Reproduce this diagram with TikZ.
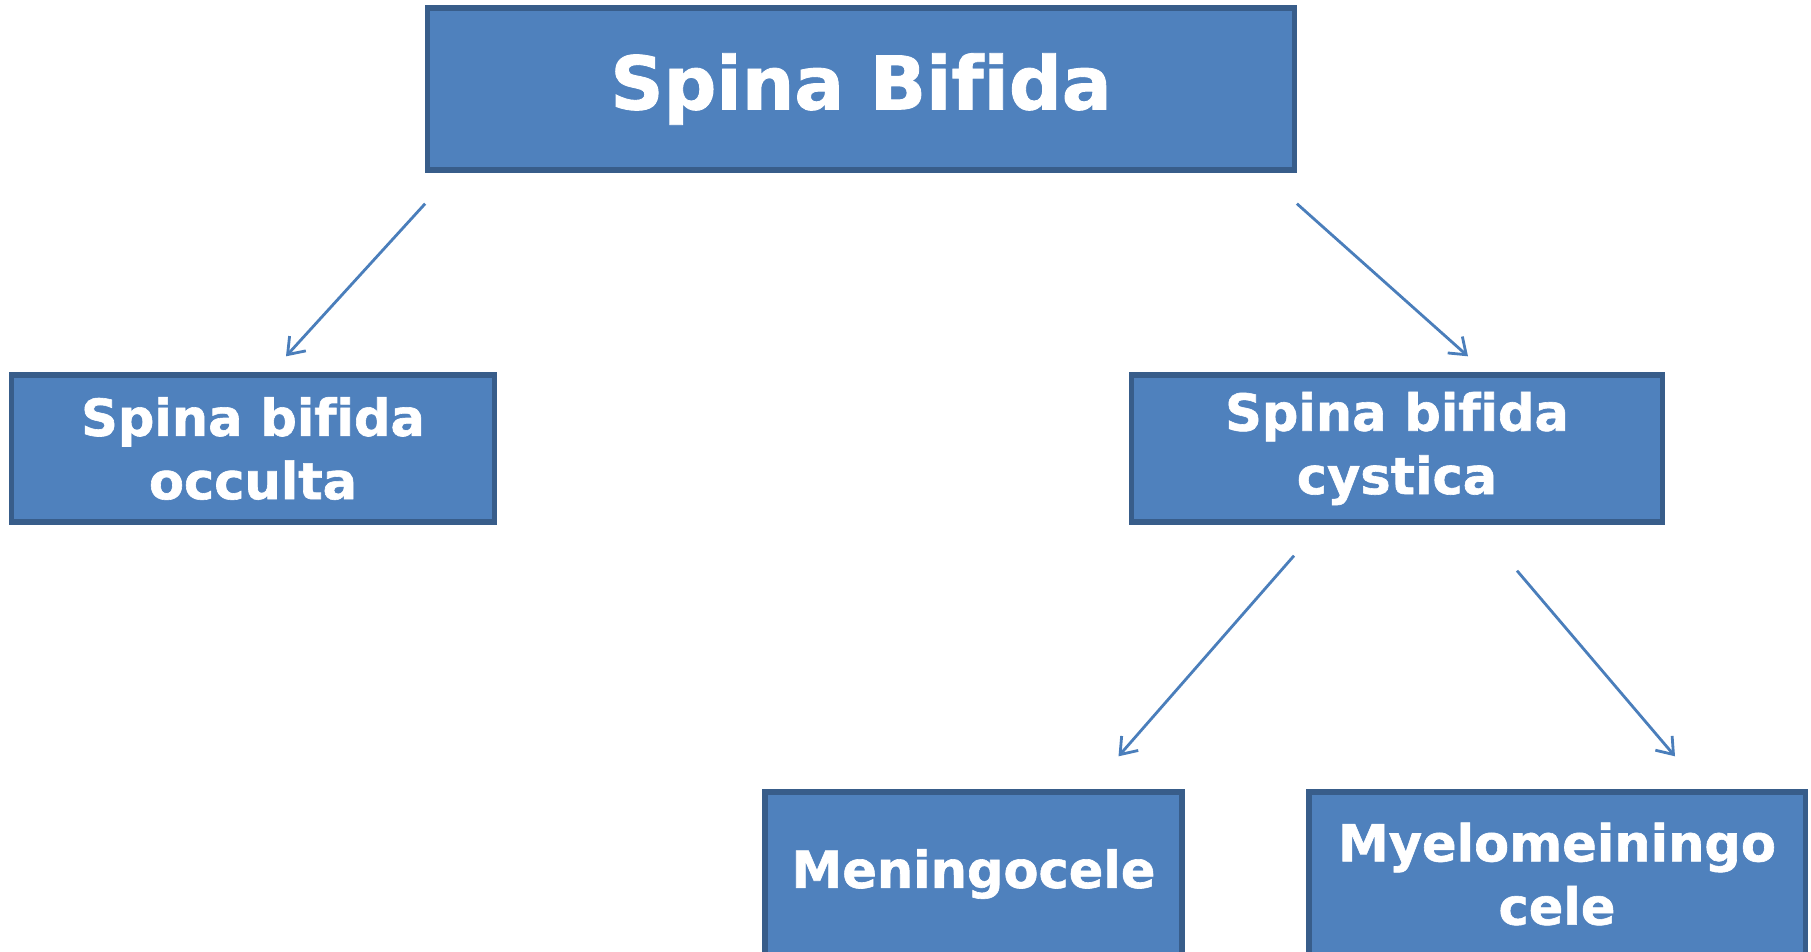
\documentclass[tikz,border=0pt]{standalone}
\usepackage{fontspec}
\setmainfont{DejaVu Sans}[Ligatures=NoCommon, BoldFeatures={FakeBold=1.2}]
\usetikzlibrary{arrows.meta,calc}

\definecolor{boxfill}{HTML}{4F81BD}
\definecolor{boxline}{HTML}{385D8A}
\definecolor{arrline}{HTML}{4A7EBB}

\tikzset{
  sbox/.style={draw=boxline, line width=1.5pt, fill=boxfill, text=white,
    font=\bfseries\fontsize{14.5}{18}\selectfont, align=center,
    inner sep=0pt},
  arr/.style={draw=arrline, line width=0.8pt,
    -{Straight Barb[length=0.15cm,width=0.22cm]}}
}

\begin{document}
\begin{tikzpicture}[x=0.01cm, y=-0.01cm]

    % page frame (pixels of the reference)
    \useasboundingbox (0,0) rectangle (1811,952);

    % top box
    \node[sbox, minimum width=8.66cm, minimum height=1.62cm,
      font=\bfseries\fontsize{21}{26}\selectfont] (spina) at (861,89) {Spina Bifida};

    % second level
    \node[sbox, minimum width=4.82cm, minimum height=1.47cm] (occulta) at (253,448.5) {Spina bifida\\occulta};
    \node[sbox, minimum width=5.30cm, minimum height=1.47cm] (cystica) at (1397,448.5) {Spina bifida\\cystica};

    % third level (cut off by the page bottom)
    \node[sbox, minimum width=4.17cm, minimum height=1.64cm] (meningo) at (973.5,874) {Meningocele};
    \node[sbox, minimum width=4.96cm, minimum height=1.64cm] (myelo) at (1557,874) {Myelomeiningo\\cele};

    % arrow ends
    \coordinate (s1) at ($(spina.south west)+(0,31)$);
    \coordinate (s2) at ($(spina.south east)+(0,31)$);
    \coordinate (e1) at ($(occulta.north)+(33,-16)$);
    \coordinate (e2) at ($(cystica.north)+(71,-16)$);
    \coordinate (c1) at ($(cystica.south)+(-103,31)$);
    \coordinate (c2) at ($(cystica.south)+(120,46)$);
    \coordinate (e3) at ($(meningo.north)+(145,-33)$);
    \coordinate (e4) at ($(myelo.north)+(118,-33)$);

    % arrows
    \draw[arr] (s1) -- (e1);
    \draw[arr] (s2) -- (e2);
    \draw[arr] (c1) -- (e3);
    \draw[arr] (c2) -- (e4);

\end{tikzpicture}
\end{document}
